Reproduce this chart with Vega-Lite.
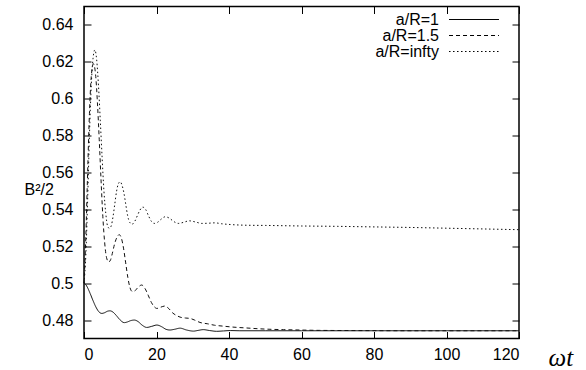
{
  "$schema": "https://vega.github.io/schema/vega-lite/v6.json",
  "width": 435,
  "height": 332,
  "autosize": {"type": "none"},
  "padding": {"left": 84, "top": 6.5, "right": 67, "bottom": 31.5},
  "background": "white",
  "config": {"view": {"stroke": "black", "strokeWidth": 1.5}, "font": "Liberation Sans"},
  "datasets": {
    "curves": [
      {"series": "a/R=1", "t": 0, "B": 0.5},
      {"series": "a/R=1", "t": 0.5, "B": 0.4992},
      {"series": "a/R=1", "t": 1.0, "B": 0.4975},
      {"series": "a/R=1", "t": 1.7, "B": 0.4944},
      {"series": "a/R=1", "t": 2.5, "B": 0.4905},
      {"series": "a/R=1", "t": 3.3, "B": 0.487},
      {"series": "a/R=1", "t": 4.1, "B": 0.4845},
      {"series": "a/R=1", "t": 4.9, "B": 0.4836},
      {"series": "a/R=1", "t": 5.7, "B": 0.484},
      {"series": "a/R=1", "t": 6.5, "B": 0.4848},
      {"series": "a/R=1", "t": 7.2, "B": 0.485},
      {"series": "a/R=1", "t": 8.0, "B": 0.4843},
      {"series": "a/R=1", "t": 8.9, "B": 0.4825},
      {"series": "a/R=1", "t": 9.9, "B": 0.4802},
      {"series": "a/R=1", "t": 11.1, "B": 0.4786},
      {"series": "a/R=1", "t": 12.0, "B": 0.479},
      {"series": "a/R=1", "t": 12.9, "B": 0.4797},
      {"series": "a/R=1", "t": 13.9, "B": 0.48},
      {"series": "a/R=1", "t": 14.9, "B": 0.4792},
      {"series": "a/R=1", "t": 16.0, "B": 0.4773},
      {"series": "a/R=1", "t": 17.3, "B": 0.476},
      {"series": "a/R=1", "t": 18.7, "B": 0.4766},
      {"series": "a/R=1", "t": 20.1, "B": 0.4773},
      {"series": "a/R=1", "t": 21.5, "B": 0.4763},
      {"series": "a/R=1", "t": 22.6, "B": 0.475},
      {"series": "a/R=1", "t": 23.7, "B": 0.4746},
      {"series": "a/R=1", "t": 25.0, "B": 0.475},
      {"series": "a/R=1", "t": 26.5, "B": 0.4756},
      {"series": "a/R=1", "t": 28.3, "B": 0.4746},
      {"series": "a/R=1", "t": 30.2, "B": 0.474},
      {"series": "a/R=1", "t": 31.5, "B": 0.4744},
      {"series": "a/R=1", "t": 32.9, "B": 0.4748},
      {"series": "a/R=1", "t": 34.7, "B": 0.4743},
      {"series": "a/R=1", "t": 36.6, "B": 0.4739},
      {"series": "a/R=1", "t": 38.5, "B": 0.4741},
      {"series": "a/R=1", "t": 40.5, "B": 0.4743},
      {"series": "a/R=1", "t": 43, "B": 0.4742},
      {"series": "a/R=1", "t": 50, "B": 0.4742},
      {"series": "a/R=1", "t": 60, "B": 0.4742},
      {"series": "a/R=1", "t": 80, "B": 0.4742},
      {"series": "a/R=1", "t": 100, "B": 0.4742},
      {"series": "a/R=1", "t": 120, "B": 0.4742},

      {"series": "a/R=1.5", "t": 0, "B": 0.5},
      {"series": "a/R=1.5", "t": 0.5, "B": 0.525},
      {"series": "a/R=1.5", "t": 1.0, "B": 0.56},
      {"series": "a/R=1.5", "t": 1.5, "B": 0.592},
      {"series": "a/R=1.5", "t": 2.0, "B": 0.612},
      {"series": "a/R=1.5", "t": 2.6, "B": 0.619},
      {"series": "a/R=1.5", "t": 3.2, "B": 0.613},
      {"series": "a/R=1.5", "t": 3.7, "B": 0.598},
      {"series": "a/R=1.5", "t": 4.2, "B": 0.578},
      {"series": "a/R=1.5", "t": 4.7, "B": 0.556},
      {"series": "a/R=1.5", "t": 5.2, "B": 0.536},
      {"series": "a/R=1.5", "t": 5.7, "B": 0.522},
      {"series": "a/R=1.5", "t": 6.2, "B": 0.514},
      {"series": "a/R=1.5", "t": 6.8, "B": 0.5115},
      {"series": "a/R=1.5", "t": 7.3, "B": 0.5125},
      {"series": "a/R=1.5", "t": 7.8, "B": 0.516},
      {"series": "a/R=1.5", "t": 8.4, "B": 0.521},
      {"series": "a/R=1.5", "t": 9.0, "B": 0.5245},
      {"series": "a/R=1.5", "t": 9.7, "B": 0.5263},
      {"series": "a/R=1.5", "t": 10.3, "B": 0.5245},
      {"series": "a/R=1.5", "t": 10.9, "B": 0.519},
      {"series": "a/R=1.5", "t": 11.5, "B": 0.511},
      {"series": "a/R=1.5", "t": 12.1, "B": 0.503},
      {"series": "a/R=1.5", "t": 12.7, "B": 0.4975},
      {"series": "a/R=1.5", "t": 13.3, "B": 0.4955},
      {"series": "a/R=1.5", "t": 14.0, "B": 0.4958},
      {"series": "a/R=1.5", "t": 14.8, "B": 0.4975},
      {"series": "a/R=1.5", "t": 15.9, "B": 0.499},
      {"series": "a/R=1.5", "t": 16.8, "B": 0.4972},
      {"series": "a/R=1.5", "t": 17.7, "B": 0.4935},
      {"series": "a/R=1.5", "t": 18.6, "B": 0.4895},
      {"series": "a/R=1.5", "t": 19.4, "B": 0.4872},
      {"series": "a/R=1.5", "t": 20.1, "B": 0.4863},
      {"series": "a/R=1.5", "t": 21.2, "B": 0.487},
      {"series": "a/R=1.5", "t": 22.3, "B": 0.4876},
      {"series": "a/R=1.5", "t": 23.4, "B": 0.4862},
      {"series": "a/R=1.5", "t": 24.5, "B": 0.4838},
      {"series": "a/R=1.5", "t": 25.5, "B": 0.4825},
      {"series": "a/R=1.5", "t": 26.5, "B": 0.4816},
      {"series": "a/R=1.5", "t": 28.0, "B": 0.4811},
      {"series": "a/R=1.5", "t": 29.2, "B": 0.4809},
      {"series": "a/R=1.5", "t": 30.5, "B": 0.48},
      {"series": "a/R=1.5", "t": 32.0, "B": 0.4787},
      {"series": "a/R=1.5", "t": 34, "B": 0.478},
      {"series": "a/R=1.5", "t": 36, "B": 0.4772},
      {"series": "a/R=1.5", "t": 38.4, "B": 0.4767},
      {"series": "a/R=1.5", "t": 41, "B": 0.4762},
      {"series": "a/R=1.5", "t": 44.9, "B": 0.4757},
      {"series": "a/R=1.5", "t": 48, "B": 0.4753},
      {"series": "a/R=1.5", "t": 51.3, "B": 0.475},
      {"series": "a/R=1.5", "t": 55, "B": 0.4748},
      {"series": "a/R=1.5", "t": 59.6, "B": 0.4746},
      {"series": "a/R=1.5", "t": 65, "B": 0.4744},
      {"series": "a/R=1.5", "t": 75, "B": 0.4743},
      {"series": "a/R=1.5", "t": 90, "B": 0.4742},
      {"series": "a/R=1.5", "t": 120, "B": 0.4742},

      {"series": "a/R=infty", "t": 0, "B": 0.5},
      {"series": "a/R=infty", "t": 0.5, "B": 0.515},
      {"series": "a/R=infty", "t": 1.0, "B": 0.545},
      {"series": "a/R=infty", "t": 1.5, "B": 0.58},
      {"series": "a/R=infty", "t": 2.0, "B": 0.607},
      {"series": "a/R=infty", "t": 2.5, "B": 0.622},
      {"series": "a/R=infty", "t": 3.0, "B": 0.6265},
      {"series": "a/R=infty", "t": 3.5, "B": 0.621},
      {"series": "a/R=infty", "t": 4.0, "B": 0.607},
      {"series": "a/R=infty", "t": 4.5, "B": 0.588},
      {"series": "a/R=infty", "t": 5.0, "B": 0.568},
      {"series": "a/R=infty", "t": 5.5, "B": 0.55},
      {"series": "a/R=infty", "t": 6.0, "B": 0.538},
      {"series": "a/R=infty", "t": 6.5, "B": 0.531},
      {"series": "a/R=infty", "t": 7.0, "B": 0.5297},
      {"series": "a/R=infty", "t": 7.5, "B": 0.531},
      {"series": "a/R=infty", "t": 8.0, "B": 0.536},
      {"series": "a/R=infty", "t": 8.5, "B": 0.543},
      {"series": "a/R=infty", "t": 9.0, "B": 0.55},
      {"series": "a/R=infty", "t": 9.5, "B": 0.554},
      {"series": "a/R=infty", "t": 10.0, "B": 0.555},
      {"series": "a/R=infty", "t": 10.5, "B": 0.553},
      {"series": "a/R=infty", "t": 11.0, "B": 0.549},
      {"series": "a/R=infty", "t": 11.5, "B": 0.543},
      {"series": "a/R=infty", "t": 12.0, "B": 0.537},
      {"series": "a/R=infty", "t": 12.6, "B": 0.533},
      {"series": "a/R=infty", "t": 13.3, "B": 0.532},
      {"series": "a/R=infty", "t": 14.0, "B": 0.5335},
      {"series": "a/R=infty", "t": 14.7, "B": 0.5365},
      {"series": "a/R=infty", "t": 15.4, "B": 0.5395},
      {"series": "a/R=infty", "t": 16.2, "B": 0.5412},
      {"series": "a/R=infty", "t": 17.0, "B": 0.54},
      {"series": "a/R=infty", "t": 17.8, "B": 0.5365},
      {"series": "a/R=infty", "t": 18.6, "B": 0.5335},
      {"series": "a/R=infty", "t": 19.4, "B": 0.5324},
      {"series": "a/R=infty", "t": 20.3, "B": 0.533},
      {"series": "a/R=infty", "t": 21.3, "B": 0.5347},
      {"series": "a/R=infty", "t": 22.4, "B": 0.536},
      {"series": "a/R=infty", "t": 23.5, "B": 0.5353},
      {"series": "a/R=infty", "t": 24.7, "B": 0.5335},
      {"series": "a/R=infty", "t": 26.0, "B": 0.5324},
      {"series": "a/R=infty", "t": 27.5, "B": 0.533},
      {"series": "a/R=infty", "t": 29.0, "B": 0.5338},
      {"series": "a/R=infty", "t": 30.7, "B": 0.5332},
      {"series": "a/R=infty", "t": 32.5, "B": 0.5324},
      {"series": "a/R=infty", "t": 34.3, "B": 0.5325},
      {"series": "a/R=infty", "t": 36.1, "B": 0.5327},
      {"series": "a/R=infty", "t": 38, "B": 0.5322},
      {"series": "a/R=infty", "t": 40.3, "B": 0.5318},
      {"series": "a/R=infty", "t": 45, "B": 0.5314},
      {"series": "a/R=infty", "t": 50, "B": 0.5313},
      {"series": "a/R=infty", "t": 60, "B": 0.531},
      {"series": "a/R=infty", "t": 70, "B": 0.5308},
      {"series": "a/R=infty", "t": 80, "B": 0.5305},
      {"series": "a/R=infty", "t": 90, "B": 0.5302},
      {"series": "a/R=infty", "t": 100, "B": 0.5298},
      {"series": "a/R=infty", "t": 110, "B": 0.5294},
      {"series": "a/R=infty", "t": 120, "B": 0.529}
    ]
  },
  "data": {"name": "curves"},
  "layer": [
    {
      "mark": {"type": "line", "interpolate": "monotone", "strokeWidth": 1, "color": "#111"},
      "encoding": {
        "x": {
          "field": "t", "type": "quantitative",
          "scale": {"domain": [0, 120], "nice": false, "zero": false},
          "axis": {
            "orient": "bottom", "values": [0, 20, 40, 60, 80, 100, 120], "grid": false, "domain": false,
            "tickSize": -7, "tickColor": "black", "labelPadding": 15,
            "labelFont": "Liberation Sans", "labelFontSize": 16, "labelColor": "black",
            "title": "ωt", "titleFont": "Liberation Serif", "titleFontStyle": "italic", "titleFontWeight": "normal",
            "titleFontSize": 25, "titleColor": "black", "titleX": 464, "titleY": 27,
            "titleAlign": "left", "titleBaseline": "alphabetic"
          }
        },
        "y": {
          "field": "B", "type": "quantitative",
          "scale": {"domain": [0.47, 0.65], "nice": false, "zero": false},
          "axis": {
            "orient": "left", "values": [0.48, 0.5, 0.52, 0.54, 0.56, 0.58, 0.6, 0.62, 0.64], "format": ".2~f",
            "grid": false, "domain": false,
            "tickSize": -7, "tickColor": "black", "labelPadding": 18,
            "labelFont": "Liberation Sans", "labelFontSize": 16, "labelColor": "black",
            "title": "B²/2", "titleFont": "Liberation Sans", "titleFontWeight": "normal", "titleFontSize": 16,
            "titleColor": "black", "titleAngle": 0, "titleX": -60, "titleY": 188,
            "titleAlign": "left", "titleBaseline": "alphabetic"
          }
        },
        "strokeDash": {
          "field": "series", "type": "nominal",
          "scale": {"domain": ["a/R=1", "a/R=1.5", "a/R=infty"], "range": [[1, 0], [4, 3], [1.5, 2.5]]},
          "legend": {
            "orient": "none", "legendX": 382, "legendY": 5, "title": null, "padding": 0,
            "symbolType": "M-4,0L4,0", "symbolSize": 156, "symbolStrokeWidth": 1, "symbolStrokeColor": "black",
            "labelAlign": "right", "labelOffset": -43, "labelFont": "Liberation Sans", "labelFontSize": 16,
            "labelColor": "black", "rowPadding": -1.5
          }
        }
      }
    },
    {
      "mark": {"type": "line", "opacity": 0},
      "encoding": {
        "x": {
          "field": "t", "type": "quantitative",
          "axis": {"orient": "top", "values": [0, 20, 40, 60, 80, 100, 120], "grid": false, "domain": false,
                   "labels": false, "tickSize": -7, "tickColor": "black", "title": null}
        },
        "y": {
          "field": "B", "type": "quantitative",
          "axis": {"orient": "right", "values": [0.48, 0.5, 0.52, 0.54, 0.56, 0.58, 0.6, 0.62, 0.64], "grid": false,
                   "domain": false, "labels": false, "tickSize": -7, "tickColor": "black", "title": null}
        },
        "detail": {"field": "series", "type": "nominal"}
      }
    }
  ],
  "resolve": {"axis": {"x": "independent", "y": "independent"}}
}
